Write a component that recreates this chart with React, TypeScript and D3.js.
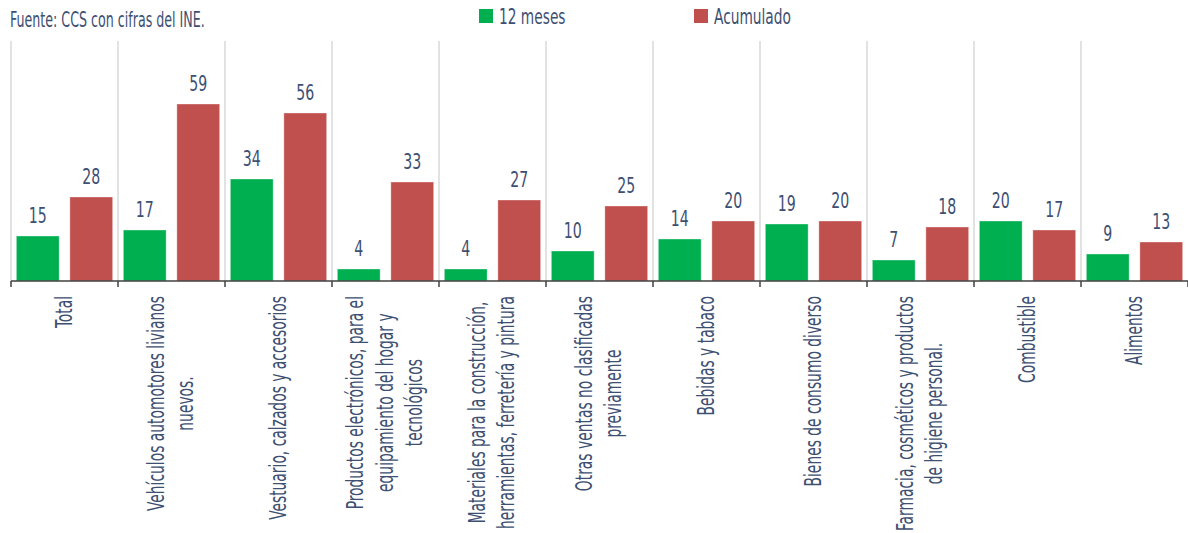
import * as d3 from 'd3';
import React, { useEffect, useRef } from 'react';

const categories: string[][] = [
    ['Total'],
    ['Vehículos automotores livianos', 'nuevos.'],
    ['Vestuario, calzados y accesorios'],
    ['Productos electrónicos, para el', 'equipamiento del hogar y', 'tecnológicos'],
    ['Materiales para la construcción,', 'herramientas, ferretería y pintura'],
    ['Otras ventas no clasificadas', 'previamente'],
    ['Bebidas y tabaco'],
    ['Bienes de consumo diverso'],
    ['Farmacia, cosméticos y productos', 'de higiene personal.'],
    ['Combustible'],
    ['Alimentos'],
];
const twelveMonths = [15, 17, 34, 4, 4, 10, 14, 19, 7, 20, 9];
const accumulated = [28, 59, 56, 33, 27, 25, 20, 20, 18, 17, 13];
const seriesNames = ['12 meses', 'Acumulado'];
const sourceNote = 'Fuente: CCS con cifras del INE.';

const GREEN = '#00b050';
const RED = '#c0504d';
const TEXT = '#3e5072';
const FONT = '"Liberation Sans Narrow", "Arial Narrow", "DejaVu Sans Condensed", sans-serif';

export default function App() {
    const ref = useRef<any>();

    useEffect(() => {
        const width = 1188;
        const height = 533;
        const dims = { left: 11, right: 1188, top: 41, bottom: 281 };

        const svg = d3.select(ref.current).attr('width', width).attr('height', height);
        svg.selectAll('*').remove();

        // how much the installed font must be squeezed to match the reference's condensed face
        const measure = (str: string, size: number) => {
            const t = svg.append('text').attr('font-family', FONT).attr('font-size', size).text(str);
            const len = (t.node() as SVGTextElement).getComputedTextLength();
            t.remove();
            return len;
        };
        const squeezeNote = 195 / measure(sourceNote, 21);
        const squeezeLegend = 77 / measure('Acumulado', 22);
        const squeezeValue = 18 / measure('10', 22);
        const squeezeCat = 224 / measure('Vestuario, calzados y accesorios', 23);

        const idx = categories.map((_, i) => i);
        const xScale = d3.scaleBand<number>().domain(idx).range([dims.left, dims.right]);
        const inner = d3.scaleBand<number>().domain([0, 1]).range([0, xScale.bandwidth()])
            .paddingInner(0.2).paddingOuter(0.1);
        const yScale = d3.scaleLinear().domain([0, 80]).range([dims.bottom, dims.top]);

        // source note
        svg.append('text')
            .attr('transform', `translate(10,27) scale(${squeezeNote},1)`)
            .attr('font-family', FONT).attr('font-size', 21).attr('fill', TEXT)
            .text(sourceNote);

        // legend
        const legendX = [479, 694];
        seriesNames.forEach((name, i) => {
            svg.append('rect').attr('x', legendX[i]).attr('y', 9).attr('width', 14).attr('height', 14)
                .attr('fill', i === 0 ? GREEN : RED);
            svg.append('text')
                .attr('transform', `translate(${legendX[i] + 20},23.5) scale(${squeezeLegend},1)`)
                .attr('font-family', FONT).attr('font-size', 22).attr('fill', TEXT)
                .text(name);
        });

        // grid lines at category boundaries
        const bounds = idx.map((i) => xScale(i) as number);
        svg.append('g').selectAll('line').data(bounds).join('line')
            .attr('x1', (d) => d).attr('x2', (d) => d)
            .attr('y1', dims.top).attr('y2', dims.bottom)
            .attr('stroke', '#d9d9d9').attr('stroke-width', 1.5);

        // bars
        const series = [twelveMonths, accumulated];
        series.forEach((vals, s) => {
            const g = svg.append('g');
            g.selectAll('rect').data(vals).join('rect')
                .attr('x', (_, i) => (xScale(i) as number) + (inner(s) as number))
                .attr('width', inner.bandwidth())
                .attr('y', (d) => yScale(d))
                .attr('height', (d) => dims.bottom - yScale(d))
                .attr('fill', s === 0 ? GREEN : RED)
                .attr('stroke', 'rgba(255,255,255,0.35)').attr('stroke-width', 1);
            g.selectAll('text').data(vals).join('text')
                .attr('transform', (d, i) => {
                    const cx = (xScale(i) as number) + (inner(s) as number) + inner.bandwidth() / 2;
                    return `translate(${cx},${yScale(d) - 13}) scale(${squeezeValue},1)`;
                })
                .attr('text-anchor', 'middle')
                .attr('font-family', FONT).attr('font-size', 22).attr('fill', TEXT)
                .text((d) => d);
        });

        // axis
        svg.append('line').attr('x1', dims.left).attr('x2', dims.right)
            .attr('y1', dims.bottom).attr('y2', dims.bottom)
            .attr('stroke', '#404040').attr('stroke-width', 1.5);
        svg.append('g').selectAll('line').data([...bounds, dims.right]).join('line')
            .attr('x1', (d) => d).attr('x2', (d) => d)
            .attr('y1', dims.bottom).attr('y2', dims.bottom + 6)
            .attr('stroke', '#404040').attr('stroke-width', 1.5);

        // category labels, rotated
        const labelTop = 296;
        const lineGap = 30;
        categories.forEach((lines, i) => {
            const cx = (xScale(i) as number) + xScale.bandwidth() / 2;
            const g = svg.append('g').attr('transform', `translate(${cx},${labelTop}) rotate(-90) scale(${squeezeCat},1)`);
            const texts = lines.map((line, k) => g.append('text')
                .attr('y', (k - (lines.length - 1) / 2) * lineGap + 7)
                .attr('text-anchor', 'middle')
                .attr('font-family', FONT).attr('font-size', 23).attr('fill', TEXT)
                .text(line));
            const maxLen = d3.max(texts, (t) => (t.node() as SVGTextElement).getComputedTextLength()) || 0;
            texts.forEach((t) => t.attr('x', -maxLen / 2));
        });
    }, []);

    return (
        <svg ref={ref} style={{ position: 'absolute', left: 0, top: 0, background: '#fff' }}></svg>
    );
}
